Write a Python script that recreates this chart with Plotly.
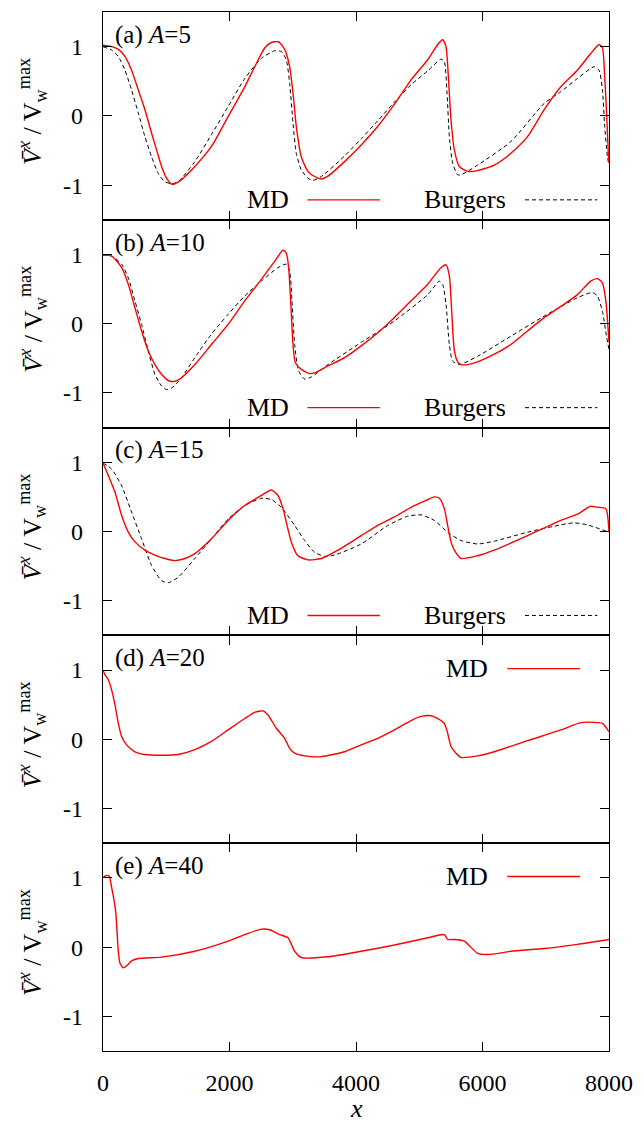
import plotly.graph_objects as go
from plotly.subplots import make_subplots

FONT = "Liberation Serif"

# ---------------- data ----------------
# (a) A=5
a_md_x = [0,137,242,347,452,558,663,768,847,926,1005,1084,1136,1241,1452,1715,1978,2241,2399,2556,
          2662,2767,2846,2898,2951,3004,3056,3135,3240,3345,3451,3556,3819,4082,4345,4608,4871,5134,5292,5370,
          5423,5460,5502,5555,5634,5765,5923,6186,6449,6712,6975,7238,7501,7711,7843,7896,7932,7964,7990,8000]
a_md_y = [1.02,1.0,0.96,0.86,0.66,0.375,0.09,-0.25,-0.49,-0.73,-0.9,-0.985,-0.98,-0.92,-0.73,-0.44,-0.01,0.42,0.71,0.98,
          1.06,1.07,1.0,0.9,0.71,0.33,-0.15,-0.59,-0.8,-0.875,-0.91,-0.87,-0.66,-0.42,-0.15,0.17,0.52,0.81,1.03,1.1,
          1.0,0.57,-0.06,-0.49,-0.73,-0.8,-0.79,-0.71,-0.54,-0.3,0.09,0.42,0.66,0.9,1.03,0.98,0.57,-0.01,-0.55,-0.68]
a_bg_x = [0,137,242,347,452,558,663,768,873,978,1084,1189,1452,1715,1978,2241,2504,2714,2819,2898,
          2951,3004,3056,3135,3240,3319,3451,3819,4082,4345,4608,4871,5134,5345,5397,5439,5476,5528,5607,5660,
          5923,6449,6975,7238,7501,7764,7843,7896,7932,7975,8000]
a_bg_y = [1.0,0.95,0.86,0.66,0.375,0.04,-0.3,-0.59,-0.83,-0.95,-0.98,-0.95,-0.66,-0.27,0.135,0.54,0.83,0.94,0.93,0.81,
          0.47,-0.1,-0.54,-0.78,-0.9,-0.93,-0.875,-0.58,-0.33,-0.07,0.2,0.45,0.65,0.82,0.78,0.33,-0.3,-0.68,-0.85,-0.85,
          -0.71,-0.37,0.18,0.35,0.54,0.71,0.66,0.375,-0.15,-0.59,-0.71]

# (b) A=10
b_md_x = [0,137,295,400,505,610,715,821,926,1031,1136,1241,1452,1715,1978,2241,2504,2714,2846,2898,
          2935,2967,3004,3040,3135,3266,3345,3556,3819,4082,4345,4608,4871,5134,5345,5423,5476,5513,5555,5607,
          5660,5765,5923,6186,6449,6712,6975,7238,7501,7711,7816,7896,7950,7985,8000]
b_md_y = [0.99,0.976,0.81,0.57,0.23,-0.105,-0.39,-0.59,-0.73,-0.82,-0.83,-0.78,-0.59,-0.3,-0.01,0.33,0.64,0.9,1.06,1.02,
          0.81,0.33,-0.3,-0.56,-0.66,-0.72,-0.71,-0.61,-0.49,-0.32,-0.13,0.09,0.33,0.57,0.81,0.85,0.69,0.18,-0.39,-0.55,
          -0.59,-0.59,-0.55,-0.44,-0.3,-0.105,0.087,0.25,0.42,0.615,0.65,0.59,0.33,-0.06,-0.27]
b_bg_x = [0,137,295,400,505,610,715,821,926,1005,1084,1241,1452,1715,1978,2241,2504,2767,2898,2951,
          2988,3030,3093,3188,3293,3556,4082,4608,5134,5318,5370,5423,5476,5528,5634,5923,6449,6975,7501,7735,
          7816,7896,7964,8000]
b_bg_y = [0.99,0.976,0.86,0.66,0.33,-0.01,-0.39,-0.73,-0.9,-0.95,-0.93,-0.78,-0.49,-0.15,0.135,0.4,0.615,0.81,0.86,0.76,
          0.33,-0.3,-0.68,-0.8,-0.77,-0.59,-0.27,0.04,0.42,0.615,0.57,0.28,-0.3,-0.54,-0.59,-0.47,-0.18,0.11,0.375,0.45,
          0.4,0.18,-0.2,-0.37]

# (c) A=15
c_md_x = [0,84,189,295,400,505,663,821,978,1136,1294,1452,1715,1978,2241,2504,2662,2767,2846,2898,
          2977,3082,3240,3451,3714,4082,4345,4608,4871,5134,5239,5318,5397,5449,5502,5555,5660,5923,6186,6712,
          7238,7501,7711,7816,7950,8000]
c_md_y = [0.99,0.81,0.57,0.23,-0.01,-0.15,-0.27,-0.34,-0.39,-0.42,-0.39,-0.32,-0.105,0.16,0.375,0.52,0.6,0.52,0.33,0.135,
          -0.15,-0.35,-0.41,-0.39,-0.27,-0.06,0.09,0.21,0.35,0.46,0.5,0.48,0.33,0.087,-0.15,-0.27,-0.39,-0.35,-0.27,-0.06,
          0.16,0.25,0.365,0.35,0.33,-0.01]
c_bg_x = [0,137,295,452,610,768,926,1031,1189,1452,1715,1978,2241,2504,2662,2819,3030,3188,3345,3503,
          3661,4082,4503,4818,5029,5239,5449,5660,5923,6186,6712,7238,7448,7659,8000]
c_bg_y = [0.99,0.9,0.66,0.28,-0.105,-0.49,-0.71,-0.74,-0.66,-0.39,-0.105,0.18,0.375,0.48,0.46,0.35,0.087,-0.13,-0.3,-0.36,
          -0.34,-0.18,0.087,0.22,0.24,0.16,-0.01,-0.13,-0.18,-0.14,-0.01,0.096,0.125,0.096,-0.01]

# (d) A=20
d_md_x = [0,32,84,137,189,242,295,373,505,663,926,1189,1452,1715,1978,2241,2399,2530,2609,2740,
          2872,2951,3030,3188,3451,3819,4082,4345,4608,4871,5029,5186,5292,5397,5449,5502,5581,5660,5923,6186,
          6712,7238,7553,7764,7896,8000]
d_md_y = [1.0,0.93,0.86,0.71,0.5,0.23,0.04,-0.08,-0.18,-0.22,-0.23,-0.22,-0.15,-0.03,0.135,0.3,0.39,0.41,0.35,0.16,
          0.014,-0.13,-0.2,-0.24,-0.25,-0.18,-0.08,0.014,0.135,0.27,0.33,0.34,0.3,0.23,0.087,-0.105,-0.2,-0.26,-0.24,-0.18,
          -0.02,0.135,0.24,0.245,0.23,0.11]

# (e) A=40
e_md_x = [0,42,95,137,200,242,268,321,373,452,558,926,1452,1978,2241,2504,2635,2793,2925,3030,
          3135,3556,4082,4608,5134,5397,5449,5555,5712,5923,6133,6449,6975,7501,8000]
e_md_y = [1.0,1.03,1.03,0.86,0.52,-0.06,-0.23,-0.3,-0.27,-0.2,-0.165,-0.145,-0.06,0.087,0.18,0.26,0.25,0.18,0.135,-0.06,
          -0.15,-0.14,-0.06,0.03,0.135,0.18,0.11,0.11,0.087,-0.09,-0.105,-0.06,-0.02,0.04,0.11]

panel_labels = ["(a) <i>A</i>=5", "(b) <i>A</i>=10", "(c) <i>A</i>=15", "(d) <i>A</i>=20", "(e) <i>A</i>=40"]
md_series = [(a_md_x, a_md_y), (b_md_x, b_md_y), (c_md_x, c_md_y), (d_md_x, d_md_y), (e_md_x, e_md_y)]
bg_series = [(a_bg_x, a_bg_y), (b_bg_x, b_bg_y), (c_bg_x, c_bg_y), None, None]

x_ticks = [0, 2000, 4000, 6000, 8000]
y_ticks = [-1, 0, 1]
y_ticktext = ["-1", "0", "1"]

# ---------------- figure ----------------
fig = make_subplots(rows=5, cols=1, shared_xaxes=True, vertical_spacing=0)

for i in range(5):
    r = i + 1
    if bg_series[i] is not None:
        bx, by = bg_series[i]
        fig.add_trace(go.Scatter(x=bx, y=by, mode="lines", name="Burgers", showlegend=False,
                                 line=dict(color="black", width=1, dash="4px,3px",
                                           shape="spline", smoothing=0.6)), row=r, col=1)
    mx, my = md_series[i]
    fig.add_trace(go.Scatter(x=mx, y=my, mode="lines", name="MD", showlegend=False,
                             line=dict(color="#ff0000", width=1.4, shape="spline", smoothing=0.6)),
                  row=r, col=1)

fig.update_xaxes(range=[0, 8000], tickvals=x_ticks, ticks="inside", ticklen=9, tickwidth=1,
                 tickcolor="black", showline=True, linecolor="black", linewidth=1.2, mirror="ticks",
                 showgrid=False, zeroline=False, ticklabelstandoff=10,
                 tickfont=dict(family=FONT, size=24, color="black"))
fig.update_yaxes(range=[-1.5, 1.5], tickvals=y_ticks, ticktext=y_ticktext, ticks="inside", ticklen=9,
                 tickwidth=1, tickcolor="black", showline=True, linecolor="black", linewidth=1.2,
                 mirror="ticks", showgrid=False, zeroline=False, ticklabelstandoff=14,
                 tickfont=dict(family=FONT, size=24, color="black"))

ytitle = "<i>V\u0304</i><sup><i>x</i></sup> / V<sub>w</sub><sup>max</sup>"
annotations = []
shapes = []
for i in range(5):
    yd = "y domain" if i == 0 else f"y{i+1} domain"
    xd = "x domain" if i == 0 else f"x{i+1} domain"
    annotations.append(dict(text=panel_labels[i], xref=xd, yref=yd, x=0.02, y=0.89,
                            xanchor="left", yanchor="middle", showarrow=False,
                            font=dict(family=FONT, size=25, color="black")))
    annotations.append(dict(text=ytitle, xref="paper", yref=yd, x=-0.14, y=0.52, textangle=-90,
                            xanchor="center", yanchor="middle", showarrow=False,
                            font=dict(family=FONT, size=26, color="black")))
    if i < 3:
        ly = 0.096
        annotations.append(dict(text="MD", xref=xd, yref=yd, x=0.371, y=ly, xanchor="right",
                                yanchor="middle", showarrow=False,
                                font=dict(family=FONT, size=26, color="black")))
        shapes.append(dict(type="line", xref=xd, yref=yd, x0=0.404, x1=0.547, y0=ly, y1=ly,
                           line=dict(color="#ff0000", width=1.4)))
        annotations.append(dict(text="Burgers", xref=xd, yref=yd, x=0.80, y=ly, xanchor="right",
                                yanchor="middle", showarrow=False,
                                font=dict(family=FONT, size=26, color="black")))
        shapes.append(dict(type="line", xref=xd, yref=yd, x0=0.834, x1=0.977, y0=ly, y1=ly,
                           line=dict(color="black", width=1, dash="4px,3px")))
    else:
        ly = 0.84
        annotations.append(dict(text="MD", xref=xd, yref=yd, x=0.764, y=ly, xanchor="right",
                                yanchor="middle", showarrow=False,
                                font=dict(family=FONT, size=26, color="black")))
        shapes.append(dict(type="line", xref=xd, yref=yd, x0=0.799, x1=0.943, y0=ly, y1=ly,
                           line=dict(color="#ff0000", width=1.4)))

annotations.append(dict(text="<i>x</i>", xref="paper", yref="paper", x=0.5, y=-0.055,
                        xanchor="center", yanchor="middle", showarrow=False,
                        font=dict(family=FONT, size=26, color="black")))

fig.update_layout(width=644, height=1130, margin=dict(l=103, r=29, t=11, b=79),
                  font=dict(family=FONT, size=24, color="black"),
                  paper_bgcolor="white", plot_bgcolor="white", showlegend=False,
                  annotations=annotations, shapes=shapes)

fig.write_html("out.html")
